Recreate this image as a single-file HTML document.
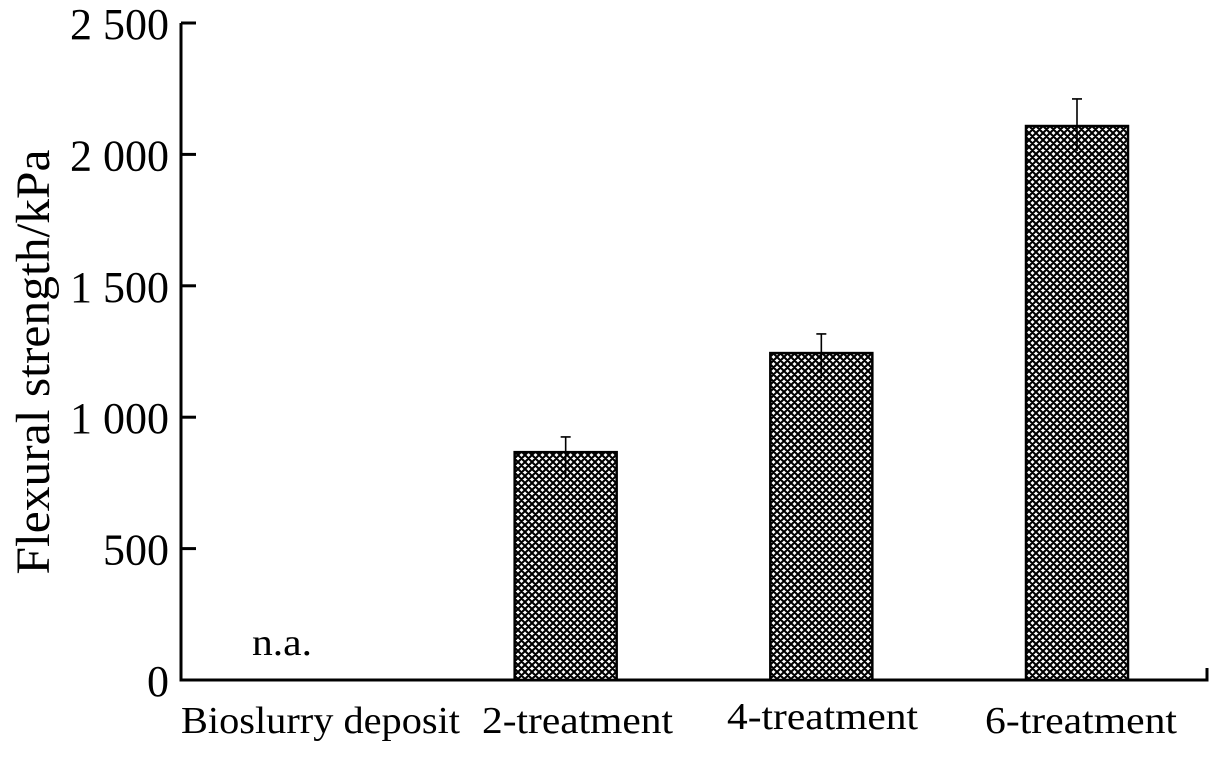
<!DOCTYPE html>
<html><head><meta charset="utf-8"><style>
html,body{margin:0;padding:0;background:#fff;}
svg{display:block;font-family:"Liberation Serif",serif;}
</style></head><body>
<svg id="chart" width="1215" height="757" viewBox="0 0 1215 757">
<defs>
<pattern id="hatch" width="7" height="7" patternUnits="userSpaceOnUse">
<rect width="7" height="7" fill="#fff"/>
<path d="M0,0L7,7M7,0L0,7M-1,6L1,8M6,-1L8,1M6,8L8,6M-1,1L1,-1" stroke="#000" stroke-width="2.1"/>
</pattern>
</defs>
<g id="axes"></g>
<g id="bars"></g>
<text transform="translate(49,362) rotate(-90)" text-anchor="middle" font-size="48" textLength="425" lengthAdjust="spacingAndGlyphs">Flexural strength/kPa</text>
</svg>
<script>
const categories=["Bioslurry deposit","2-treatment","4-treatment","6-treatment"];
const values=[null,867,1244,2108];
const errors=[null,58,73,103];
const yTicks=[0,500,1000,1500,2000,2500];
const yTickLabels=["0","500","1 000","1 500","2 000","2 500"];
const NS="http://www.w3.org/2000/svg";
const x0=181,x1=1207,yBase=680,yTop=23,yMax=2500;
const y=v=>yBase-(v/yMax)*(yBase-yTop);
const centers=[310,566,821,1077];
const xc=i=>centers[0]+i*((centers[3]-centers[0])/3);
const bw=102;
function mk(tag,attrs,parent){const e=document.createElementNS(NS,tag);for(const k in attrs)e.setAttribute(k,attrs[k]);parent.appendChild(e);return e;}
const axes=document.getElementById('axes'),bars=document.getElementById('bars');
let a=mk('path',{d:`M${x0},${yTop}V${yBase}H${x1}V${yBase-12}`,fill:'none',stroke:'#000','stroke-width':3},axes);


yTicks.forEach((t,i)=>{
 const l=mk('line',{x1:x0,x2:x0+15,y1:y(t),y2:y(t),stroke:'#000','stroke-width':3},axes);
 
 
 const tx=mk('text',{x:x0-12,y:y(t)+16,'text-anchor':'end','font-size':44},axes);
 tx.textContent=yTickLabels[i];
 
 
});
const labelX=[181,482,727,985];
categories.forEach((c,i)=>{
 const tx=mk('text',{x:labelX[i],y:i==2?729:733,'font-size':38,textLength:[279,191,191,192][i],lengthAdjust:'spacingAndGlyphs'},axes);
 tx.textContent=c;
 
 
 const v=values[i];
 if(v==null){
  const na=mk('text',{x:xc(i)-58,y:655,'font-size':38,textLength:60,lengthAdjust:'spacingAndGlyphs'},bars);
  na.textContent='n.a.';
  
  
  return;
 }
 const r=mk('rect',{x:xc(i)-bw/2,y:y(v),width:bw,height:yBase-y(v),fill:'url(#hatch)',stroke:'#000','stroke-width':2.5},bars);
 
 
 const e=v+errors[i];
 const eb=mk('path',{d:`M${xc(i)},${y(v)+25}V${y(e)}M${xc(i)-5},${y(e)}H${xc(i)+5}`,fill:'none',stroke:'#000','stroke-width':1.6},bars);
 
 
});
</script>
</body></html>
